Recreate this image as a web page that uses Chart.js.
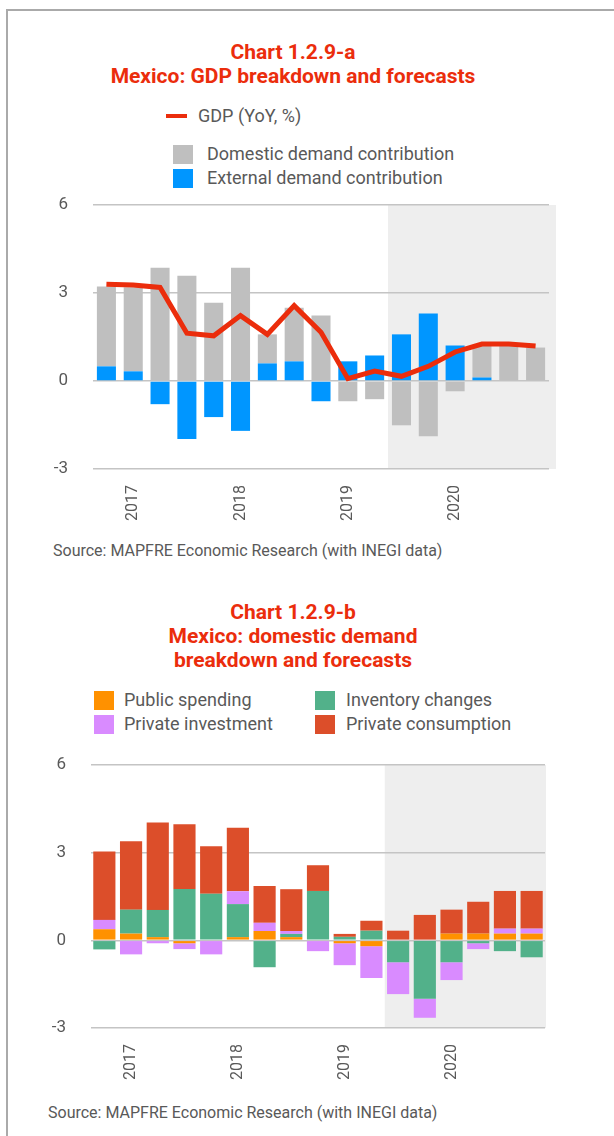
<!DOCTYPE html>
<html lang="en">
<head>
<meta charset="UTF-8">
<title>Mexico GDP breakdown</title>
<script src="https://cdn.jsdelivr.net/npm/chart.js"></script>
<style>
    body { margin: 0; background: #fff; width: 614px; height: 1136px; overflow: hidden; position: relative;
           font-family: "Roboto", sans-serif; color: #595959; }
    .frame { position: absolute; left: 6px; top: 9px; width: 700px; height: 1200px;
             border-left: 2px solid #aaa; border-top: 2px solid #aaa; }
    .title { position: absolute; left: 0; width: 586px; text-align: center; color: #eb2d0c;
             font-weight: bold; font-size: 21px; line-height: 24px; }
    .legend { position: absolute; font-size: 18px; line-height: 24px; }
    .item { position: absolute; white-space: nowrap; }
    .box { position: absolute; width: 20px; height: 19px; }
    .dash { position: absolute; width: 21px; height: 4px; }
    .source { position: absolute; font-size: 16px; }
    canvas { position: absolute; }
</style>
</head>
<body>
<div class="frame"></div>

<div class="title" style="top:40px">Chart 1.2.9-a<br>Mexico: GDP breakdown and forecasts</div>
<div id="legendA"></div>
<canvas id="chartA" width="530" height="334" style="left:40px; top:195px"></canvas>
<div class="source" style="left:53px; top:541px">Source: MAPFRE Economic Research (with INEGI data)</div>

<div class="title" style="top:600px">Chart 1.2.9-b<br>Mexico: domestic demand<br>breakdown and forecasts</div>
<div id="legendB"></div>
<canvas id="chartB" width="530" height="333" style="left:40px; top:755px"></canvas>
<div class="source" style="left:48px; top:1103px">Source: MAPFRE Economic Research (with INEGI data)</div>

<script>
    // quarters 4Q16 .. 4Q20
    var quarters = ['4Q16', '1Q17', '2Q17', '3Q17', '4Q17', '1Q18', '2Q18', '3Q18', '4Q18',
                    '1Q19', '2Q19', '3Q19', '4Q19', '1Q20', '2Q20', '3Q20', '4Q20'];
    var forecastFrom = '3Q19';

    // chart a
    var gdp      = [3.30, 3.27, 3.19, 1.63, 1.54, 2.23, 1.59, 2.57, 1.66, 0.08, 0.34, 0.16, 0.50, 0.99, 1.26, 1.26, 1.19];
    var domestic = [2.72, 2.87, 3.86, 3.59, 2.67, 3.86, 0.99, 1.83, 2.23, -0.69, -0.62, -1.51, -1.88, -0.35, 1.12, 1.25, 1.14];
    var external = [0.50, 0.33, -0.79, -1.98, -1.23, -1.70, 0.60, 0.67, -0.69, 0.67, 0.87, 1.59, 2.30, 1.21, 0.12, 0.00, 0.00];

    // chart b
    var publicSpending = [0.38, 0.23, 0.11, -0.10, 0.00, 0.11, 0.32, 0.11, 0.00, -0.10, -0.20, 0.00, 0.00, 0.23, 0.23, 0.23, 0.23];
    var inventory      = [-0.31, 0.82, 0.93, 1.76, 1.59, 1.13, -0.92, 0.11, 1.69, 0.12, 0.33, -0.75, -2.00, -0.75, -0.10, -0.37, -0.58];
    var investment     = [0.32, -0.48, -0.10, -0.20, -0.48, 0.44, 0.28, 0.10, -0.37, -0.75, -1.09, -1.09, -0.65, -0.61, -0.20, 0.17, 0.17];
    var consumption    = [2.34, 2.34, 2.99, 2.21, 1.63, 2.17, 1.26, 1.43, 0.88, 0.10, 0.34, 0.33, 0.87, 0.82, 1.09, 1.29, 1.29];

    var yTicks = [-3, 0, 3, 6];

    var RED = '#eb2d0c', GREY = '#bfbfbf', BLUE = '#0096ff';
    var ORANGE = '#ff9100', GREEN = '#52b18a', PURPLE = '#d98bff', BROWN = '#dc4e2a';
    var FONT = '"Roboto", sans-serif';

    // grey box behind forecast quarters
    var forecastBox = {
        id: 'forecastBox',
        beforeDraw: function (chart, args, opts) {
            var x = chart.scales.x, y = chart.scales.y, c = chart.ctx;
            var i = quarters.indexOf(forecastFrom);
            var left = (x.getPixelForValue(i - 1) + x.getPixelForValue(i)) / 2;
            var top = y.getPixelForValue(yTicks[yTicks.length - 1]);
            var bottom = y.getPixelForValue(yTicks[0]);
            c.save();
            c.fillStyle = '#eeeeee';
            c.fillRect(left, top, chart.chartArea.right + opts.extra - left, bottom - top);
            c.restore();
        }
    };

    function baseOptions(leftWidth, padRight, extra) {
        return {
            responsive: false,
            animation: false,
            layout: { padding: { top: 10, right: padRight, left: 0, bottom: 0 } },
            plugins: { legend: { display: false }, tooltip: { enabled: false }, forecastBox: { extra: extra } },
            scales: {
                x: {
                    stacked: true,
                    grid: { display: false },
                    border: { display: false },
                    afterFit: function (s) { s.height = 60; },
                    ticks: {
                        autoSkip: false, maxRotation: 90, minRotation: 90, padding: 8,
                        color: '#595959', font: { family: FONT, size: 16 },
                        callback: function (v, i) {
                            var q = quarters[i];
                            return q.indexOf('1Q') === 0 ? '20' + q.slice(2) : '';
                        }
                    }
                },
                y: {
                    stacked: true,
                    min: yTicks[0], max: yTicks[yTicks.length - 1],
                    afterFit: function (s) { s.width = leftWidth; s.paddingTop = 0; s.paddingBottom = 0; },
                    afterBuildTicks: function (s) { s.ticks = yTicks.map(function (v) { return { value: v }; }); },
                    border: { display: false },
                    grid: { color: '#c4c4c4', lineWidth: 1.5, borderDash: [2, 3], drawTicks: false },
                    ticks: { padding: 25, color: '#595959', font: { family: FONT, size: 17 } }
                }
            }
        };
    }

    new Chart(document.getElementById('chartA'), {
        data: {
            labels: quarters,
            datasets: [
                { type: 'line', label: 'GDP (YoY, %)', data: gdp, stack: 'gdp', borderColor: RED, backgroundColor: RED,
                  borderWidth: 5, pointRadius: 0, tension: 0, order: 0 },
                { type: 'bar', label: 'External demand contribution', data: external, stack: 'c', backgroundColor: BLUE,
                  barPercentage: 0.71, categoryPercentage: 1, order: 1 },
                { type: 'bar', label: 'Domestic demand contribution', data: domestic, stack: 'c', backgroundColor: GREY,
                  barPercentage: 0.71, categoryPercentage: 1, order: 1 }
            ]
        },
        options: baseOptions(53, 21, 7),
        plugins: [forecastBox]
    });

    var chartB = new Chart(document.getElementById('chartB'), {
        type: 'bar',
        data: {
            labels: quarters,
            datasets: [
                { label: 'Public spending', data: publicSpending, backgroundColor: ORANGE },
                { label: 'Inventory changes', data: inventory, backgroundColor: GREEN },
                { label: 'Private investment', data: investment, backgroundColor: PURPLE },
                { label: 'Private consumption', data: consumption, backgroundColor: BROWN }
            ].map(function (d) { d.barPercentage = 0.83; d.categoryPercentage = 1; return d; })
        },
        options: baseOptions(51, 25, 1),
        plugins: [forecastBox]
    });

    // html legends
    function addItem(host, x, y, label, color, line, gap) {
        var mark = document.createElement('div');
        mark.className = line ? 'dash' : 'box';
        mark.style.background = color;
        mark.style.left = x + 'px';
        mark.style.top = (line ? y - 2 : y - 9) + 'px';
        host.appendChild(mark);
        var t = document.createElement('div');
        t.className = 'item legend';
        t.textContent = label;
        t.style.left = (x + gap) + 'px';
        t.style.top = (y - 12) + 'px';
        host.appendChild(t);
    }
    var la = document.getElementById('legendA');
    addItem(la, 166, 116, 'GDP (YoY, %)', RED, true, 32);
    addItem(la, 173, 154, 'Domestic demand contribution', GREY, false, 34);
    addItem(la, 173, 178, 'External demand contribution', BLUE, false, 34);

    var lb = document.getElementById('legendB');
    var ds = chartB.data.datasets;
    addItem(lb, 94, 700, ds[0].label, ds[0].backgroundColor, false, 30);
    addItem(lb, 315, 700, ds[1].label, ds[1].backgroundColor, false, 31);
    addItem(lb, 94, 724, ds[2].label, ds[2].backgroundColor, false, 30);
    addItem(lb, 315, 724, ds[3].label, ds[3].backgroundColor, false, 31);
</script>
</body>
</html>
